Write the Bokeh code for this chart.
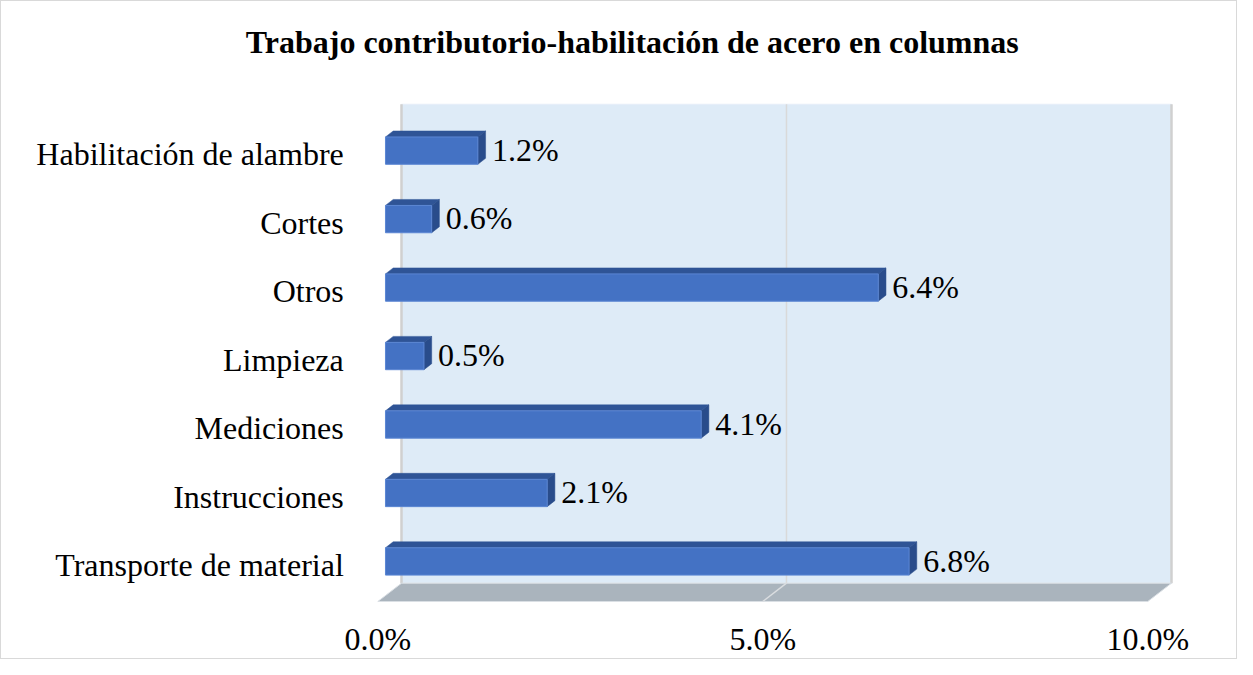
from bokeh.plotting import figure
from bokeh.models import Range1d, FixedTicker
from bokeh.embed import file_html
from bokeh.resources import INLINE
from bokeh.core.properties import value

# ---- data ----
categories = ["Transporte de material", "Instrucciones", "Mediciones", "Limpieza",
              "Otros", "Cortes", "Habilitación de alambre"]
values = [6.8, 2.1, 4.1, 0.5, 6.4, 0.6, 1.2]
x_ticks = [0, 5, 10]
x_tick_labels = ["0.0%", "5.0%", "10.0%"]
title_text = "Trabajo contributorio-habilitación de acero en columnas"

# ---- style / geometry constants ----
FONT = "Liberation Serif"
FRONT = "#4472C4"
TOP = "#2F5496"
SIDE = "#294C8B"
WALL = "#DEEBF7"
FLOOR = "#AAB4BD"
GRID = "#D9D9D9"

BAR_LO, BAR_HI = -0.114, 0.285   # bar front face, relative to category position
DX, DY = 0.1, 0.0876             # bar depth (oblique projection)
WALL_DX = 0.208                  # wall plane offset in x
FRONT_DX = -0.1                  # floor front plane offset in x
FLOOR_BACK_Y, FLOOR_FRONT_Y = -0.232, -0.4995
WALL_TOP = 6.763
XMAX = max(x_ticks)
LABEL_DY = 0.097                 # value label baseline relative to category
CAT_X, CAT_DY = -0.5416, 0.029   # category label anchor (right aligned)
TITLE_X, TITLE_Y = 3.205, 7.672

p = figure(width=1237, height=659, output_backend="svg", toolbar_location=None,
           x_range=Range1d(-4.857, 10.468), y_range=Range1d(-0.5287, 8.2635),
           min_border_left=10, min_border_right=47, min_border_top=0,
           min_border_bottom=57, tools="")
p.title = None
p.background_fill_color = "white"
p.border_fill_color = "white"
p.outline_line_color = None
p.xgrid.visible = False
p.ygrid.visible = False
p.yaxis.visible = False
p.styles = {"border": "1px solid #D9D9D9"}

# back wall
p.patch([WALL_DX, WALL_DX + XMAX, WALL_DX + XMAX, WALL_DX],
        [FLOOR_BACK_Y, FLOOR_BACK_Y, WALL_TOP, WALL_TOP],
        fill_color=WALL, line_color="#E6EEF8", line_width=1)
# wall gridlines
for t in x_ticks:
    edge = t in (x_ticks[0], x_ticks[-1])
    p.line([WALL_DX + t, WALL_DX + t], [FLOOR_BACK_Y, WALL_TOP],
           line_color="#D0D0D0" if edge else GRID, line_width=2.5 if edge else 1.5)

# floor
p.patch([WALL_DX, WALL_DX + XMAX, FRONT_DX + XMAX, FRONT_DX],
        [FLOOR_BACK_Y, FLOOR_BACK_Y, FLOOR_FRONT_Y, FLOOR_FRONT_Y],
        fill_color=FLOOR, line_color="#DADFE4", line_width=1)
for t in x_ticks[1:-1]:
    p.line([WALL_DX + t, FRONT_DX + t], [FLOOR_BACK_Y, FLOOR_FRONT_Y],
           line_color="#DADDE0", line_width=1.5)

# bars
for i, v in enumerate(values):
    lo, hi = i + BAR_LO, i + BAR_HI
    # top face
    p.patch([0, v, v + DX, DX], [hi, hi, hi + DY, hi + DY],
            fill_color=TOP, line_color=TOP, line_width=0.5)
    # side face
    p.patch([v, v + DX, v + DX, v], [lo, lo + DY, hi + DY, hi],
            fill_color=SIDE, line_color=SIDE, line_width=0.5)
# front faces
p.quad(left=[0] * len(values), right=values,
       bottom=[i + BAR_LO for i in range(len(values))],
       top=[i + BAR_HI for i in range(len(values))],
       fill_color=FRONT, line_color="#5B86D3", line_width=1)

# value labels
p.text(x=[v + DX + 0.083 for v in values],
       y=[i + LABEL_DY for i in range(len(values))],
       text=[f"{v:.1f}%" for v in values],
       text_font=value(FONT), text_font_size="32px", text_color="black",
       text_align="left", text_baseline="alphabetic")

# category labels
p.text(x=[CAT_X] * len(categories),
       y=[i + CAT_DY for i in range(len(categories))],
       text=categories,
       text_font=value(FONT), text_font_size="32px", text_color="black",
       text_align="right", text_baseline="alphabetic")

# title
p.text(x=[TITLE_X], y=[TITLE_Y], text=[title_text],
       text_font=value(FONT), text_font_size="32px", text_font_style="bold",
       text_color="black", text_align="center", text_baseline="alphabetic")

# x axis
p.xaxis.ticker = FixedTicker(ticks=[FRONT_DX + t for t in x_ticks])
p.xaxis.major_label_overrides = {FRONT_DX + t: lab for t, lab in zip(x_ticks, x_tick_labels)}
ax = p.xaxis[0]
ax.axis_line_color = None
ax.major_tick_line_color = None
ax.minor_tick_line_color = None
ax.major_tick_out = 0
ax.major_tick_in = 0
ax.major_label_text_font = FONT
ax.major_label_text_font_size = "32px"
ax.major_label_text_color = "black"
ax.major_label_standoff = 17

open("out.html", "w").write(file_html(p, INLINE))
